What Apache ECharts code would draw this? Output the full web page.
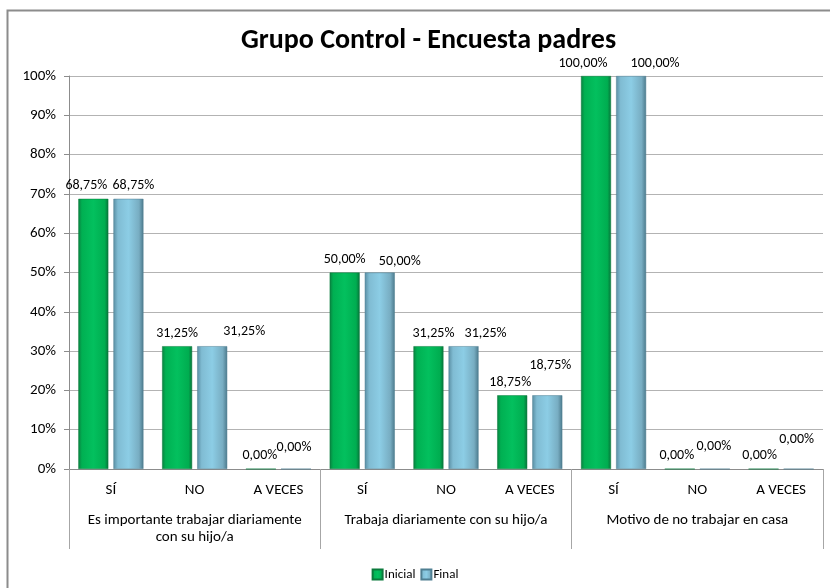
<!DOCTYPE html>
<html>
<head>
<meta charset="utf-8">
<script src="https://cdn.jsdelivr.net/npm/echarts@6/dist/echarts.min.js"></script>
<style>
  html, body { margin: 0; padding: 0; background: #fff; }
  #chart { width: 830px; height: 588px; }
</style>
</head>
<body>
<div id="chart"></div>
<script>
// categories (inner level) and groups (outer level)
var categories = ['SÍ', 'NO', 'A VECES', 'SÍ', 'NO', 'A VECES', 'SÍ', 'NO', 'A VECES'];
var groups = ['Es importante trabajar diariamente\ncon su hijo/a', 'Trabaja diariamente con su hijo/a', 'Motivo de no trabajar en casa'];
var inicial = [68.75, 31.25, 0, 50, 31.25, 18.75, 100, 0, 0];
var final = [68.75, 31.25, 0, 50, 31.25, 18.75, 100, 0, 0];
var yTicks = [0, 10, 20, 30, 40, 50, 60, 70, 80, 90, 100];

// excel nudged the data labels around, copy that
var inicialLabelDx = [-7, 0, -1, 0, 5, -2, -13, -3, -4];
var finalLabelDx = [5, 32, -2, 20, 22, 3, 24, -1, -2];
var finalLabelDy = [0, -2, -8, 2, 0, -17, 0, -9, -16];

var FONT = 'Carlito, Calibri, "Liberation Sans Narrow", "Liberation Sans", sans-serif';

function pct(v) {
    return v.toFixed(2).replace('.', ',') + '%';
}

var greenFill = new echarts.graphic.LinearGradient(0, 0, 1, 0, [
    { offset: 0, color: '#0a8040' },
    { offset: 0.12, color: '#00b052' },
    { offset: 0.5, color: '#03c05e' },
    { offset: 0.88, color: '#00ad50' },
    { offset: 1, color: '#08733a' }
]);
var blueFill = new echarts.graphic.LinearGradient(0, 0, 1, 0, [
    { offset: 0, color: '#5a8ea3' },
    { offset: 0.15, color: '#80bcd3' },
    { offset: 0.5, color: '#8ccde5' },
    { offset: 0.85, color: '#78adc2' },
    { offset: 1, color: '#4c7a8c' }
]);

var labelStyle = {
    show: true,
    position: 'top',
    distance: 6,
    fontFamily: FONT,
    fontSize: 14,
    color: '#000',
    formatter: function (p) { return pct(p.value); }
};

var option = {
    backgroundColor: '#fff',
    animation: false,
    textStyle: { fontFamily: FONT },
    graphic: [
        {
            type: 'polyline',
            shape: { points: [[7.5, 588], [7.5, 10.5], [830, 10.5]] },
            style: { stroke: '#8c8c8c', lineWidth: 2, fill: null },
            silent: true
        }
    ],
    title: {
        text: 'Grupo Control - Encuesta padres',
        left: 236,
        top: 22,
        textStyle: { fontFamily: FONT, fontSize: 28, fontWeight: 'bold', color: '#000' }
    },
    legend: {
        data: ['Inicial', 'Final'],
        left: 'center',
        top: 563,
        icon: 'rect',
        itemWidth: 10,
        itemHeight: 10,
        itemGap: 5,
        textStyle: { fontFamily: FONT, fontSize: 13, color: '#000', padding: [0, 0, 0, -3] }
    },
    grid: {
        left: 69,
        right: 7,
        top: 76,
        bottom: 119,
        containLabel: false
    },
    xAxis: [
        {
            type: 'category',
            data: categories,
            position: 'bottom',
            axisLine: { show: true, lineStyle: { color: '#8c8c8c', width: 1 } },
            axisTick: { show: false },
            axisLabel: { interval: 0, margin: 14, fontFamily: FONT, fontSize: 15, color: '#000' },
            splitLine: { show: false }
        },
        {
            type: 'category',
            data: groups,
            position: 'bottom',
            axisLine: { show: false },
            axisTick: { show: true, interval: 0, length: 80, lineStyle: { color: '#a6a6a6', width: 1 } },
            axisLabel: { interval: 0, margin: 43, fontFamily: FONT, fontSize: 15, color: '#000', lineHeight: 17 },
            splitLine: { show: false }
        }
    ],
    yAxis: {
        type: 'value',
        min: yTicks[0],
        max: yTicks[yTicks.length - 1],
        interval: 10,
        axisLine: { show: true, lineStyle: { color: '#8c8c8c' } },
        axisTick: { show: true, length: 5, lineStyle: { color: '#8c8c8c' } },
        axisLabel: {
            margin: 13,
            fontFamily: FONT,
            fontSize: 15,
            color: '#000',
            formatter: function (v) { return v + '%'; }
        },
        splitLine: { show: true, lineStyle: { color: '#b3b3b3', width: 1 } }
    },
    series: [
        {
            name: 'Inicial',
            type: 'bar',
            xAxisIndex: 0,
            data: inicial.map(function (v, i) {
                return { value: v, label: { offset: [inicialLabelDx[i], 0] } };
            }),
            barWidth: 30,
            barGap: '17%',
            itemStyle: { color: greenFill, borderColor: '#0b7a3c', borderWidth: 0.5 },
            label: labelStyle
        },
        {
            name: 'Final',
            type: 'bar',
            xAxisIndex: 0,
            data: final.map(function (v, i) {
                return { value: v, label: { offset: [finalLabelDx[i], finalLabelDy[i]] } };
            }),
            barWidth: 30,
            barGap: '17%',
            itemStyle: { color: blueFill, borderColor: '#4f7f92', borderWidth: 0.5 },
            label: labelStyle
        }
    ]
};

var chart = echarts.init(document.getElementById('chart'));
chart.setOption(option);
</script>
</body>
</html>
